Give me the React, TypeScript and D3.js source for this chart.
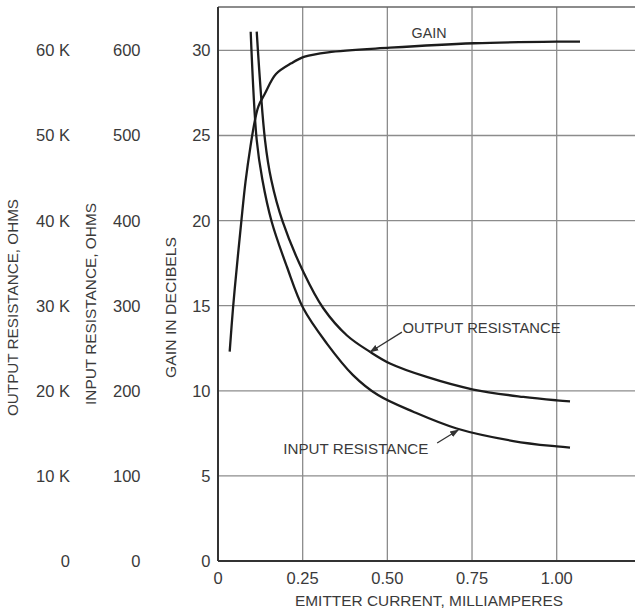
import React from "react";
import * as d3 from "d3";

// Emitter current (mA) and gain (dB)
const gainCurrent = [0.0345, 0.0443, 0.0561, 0.0688, 0.0812, 0.096, 0.1092, 0.1196, 0.1379, 0.1712, 0.2164, 0.256, 0.3248, 0.5078, 0.7558, 1.0, 1.0688];
const gainDb = [12.3, 14.85, 17.39, 19.94, 22.27, 24.38, 25.91, 26.73, 27.44, 28.61, 29.24, 29.63, 29.89, 30.16, 30.42, 30.51, 30.51];

// Input resistance (ohms)
const inputCurrent = [0.0965, 0.1143, 0.1308, 0.1585, 0.2037, 0.2518, 0.3209, 0.3986, 0.4724, 0.5766, 0.7048, 0.8719, 1.0, 1.0393];
const inputOhms = [622, 494.7, 448.6, 398.7, 345.5, 296.9, 255.8, 218.5, 195.0, 175.4, 155.7, 141.0, 134.6, 133.2];

// Output resistance (kilohms)
const outputCurrent = [0.1143, 0.1388, 0.1574, 0.191, 0.2518, 0.3109, 0.3809, 0.4488, 0.5078, 0.6162, 0.7538, 0.9014, 1.0, 1.0393];
const outputKOhms = [62.2, 49.47, 44.77, 39.87, 33.99, 29.7, 26.5, 24.58, 23.21, 21.63, 20.15, 19.28, 18.88, 18.76];

const xTicks = [0, 0.25, 0.5, 0.75, 1.0];
const xTickLabels = ["0", "0.25", "0.50", "0.75", "1.00"];
const gainTicks = [0, 5, 10, 15, 20, 25, 30];
const inputTicks = [0, 100, 200, 300, 400, 500, 600];
const outputTicks = [0, 10, 20, 30, 40, 50, 60];
const outputTickLabels = ["0", "10 K", "20 K", "30 K", "40 K", "50 K", "60 K"];

const W = 635;
const H = 613;
const DB_MAX = 32.55;
const X_MAX = 1.235;

export default function App() {
  const x = d3.scaleLinear().domain([0, X_MAX]).range([218, 218 + X_MAX * 338.7]);
  const y = d3.scaleLinear().domain([0, DB_MAX]).range([561, 7]);
  const yIn = d3.scaleLinear().domain([0, DB_MAX * 20]).range([561, 7]);
  const yOut = d3.scaleLinear().domain([0, DB_MAX * 2]).range([561, 7]);

  const lineGen = (xs: number[], ys: number[], ys2: (v: number) => number) =>
    d3
      .line<number>()
      .x((_, i) => x(xs[i]))
      .y((v) => ys2(v))
      .curve(d3.curveCatmullRom.alpha(0.5))(ys) || "";

  const gainPath = lineGen(gainCurrent, gainDb, y);
  const inputPath = lineGen(inputCurrent, inputOhms, yIn);
  const outputPath = lineGen(outputCurrent, outputKOhms, yOut);

  const textColor = "#3a3a3a";
  const font = "'Liberation Sans', Arial, sans-serif";
  const curveColor = "#1c1c1c";
  const gridColor = "#8c8c8c";

  const x0 = x(0);
  const xEnd = W;
  const yTop = y(DB_MAX);
  const yBot = y(0);

  return (
    <svg
      width={W}
      height={H}
      style={{ position: "absolute", left: 0, top: 0, background: "#fff" }}
      fontFamily={font}
    >
      <defs>
        <marker id="arr" viewBox="0 0 10 10" refX="9" refY="5" markerWidth="7" markerHeight="7" orient="auto">
          <path d="M0,1.5 L10,5 L0,8.5 z" fill="#333" />
        </marker>
      </defs>
      <rect x={0} y={0} width={W} height={H} fill="#fff" />

      {/* grid */}
      {gainTicks.filter((t) => t > 0).map((t) => (
        <line key={"h" + t} x1={x0} x2={xEnd} y1={y(t)} y2={y(t)} stroke={gridColor} strokeWidth={1.3} />
      ))}
      {xTicks.filter((t) => t > 0).map((t) => (
        <line key={"v" + t} x1={x(t)} x2={x(t)} y1={yTop} y2={yBot} stroke={gridColor} strokeWidth={1.3} />
      ))}
      {/* top border */}
      <line x1={x0} x2={xEnd} y1={yTop} y2={yTop} stroke="#666" strokeWidth={1.4} />
      {/* axes */}
      <line x1={x0} x2={x0} y1={yTop} y2={yBot} stroke="#333" strokeWidth={2} />
      <line x1={x0} x2={xEnd} y1={yBot} y2={yBot} stroke="#333" strokeWidth={2} />

      {/* curves */}
      <path d={gainPath} fill="none" stroke={curveColor} strokeWidth={2.3} />
      <path d={inputPath} fill="none" stroke={curveColor} strokeWidth={2.3} />
      <path d={outputPath} fill="none" stroke={curveColor} strokeWidth={2.3} />

      {/* x ticks */}
      {xTicks.map((t, i) => (
        <text key={"xt" + t} x={x(t)} y={583.5} textAnchor="middle" fontSize={16.5} fill={textColor}>
          {xTickLabels[i]}
        </text>
      ))}
      <text x={x(0.623)} y={606} textAnchor="middle" fontSize={15} fill={textColor} textLength={268} lengthAdjust="spacingAndGlyphs">
        EMITTER CURRENT, MILLIAMPERES
      </text>

      {/* gain ticks */}
      {gainTicks.map((t) => (
        <text key={"g" + t} x={210.5} y={y(t)} dy="0.36em" textAnchor="end" fontSize={16.5} fill={textColor}>
          {t}
        </text>
      ))}
      {/* input resistance ticks */}
      {inputTicks.map((t) => (
        <text key={"i" + t} x={140.5} y={yIn(t)} dy="0.36em" textAnchor="end" fontSize={16.5} fill={textColor}>
          {t}
        </text>
      ))}
      {/* output resistance ticks */}
      {outputTicks.map((t, i) => (
        <text key={"o" + t} x={70} y={yOut(t)} dy="0.36em" textAnchor="end" fontSize={16.5} fill={textColor}>
          {outputTickLabels[i]}
        </text>
      ))}

      {/* axis titles */}
      <text transform={`translate(18,307.5) rotate(-90)`} textAnchor="middle" fontSize={15} fill={textColor} textLength={217} lengthAdjust="spacingAndGlyphs">
        OUTPUT RESISTANCE, OHMS
      </text>
      <text transform={`translate(96,304) rotate(-90)`} textAnchor="middle" fontSize={15} fill={textColor} textLength={202} lengthAdjust="spacingAndGlyphs">
        INPUT RESISTANCE, OHMS
      </text>
      <text transform={`translate(175.5,307.5) rotate(-90)`} textAnchor="middle" fontSize={15} fill={textColor} textLength={141} lengthAdjust="spacingAndGlyphs">
        GAIN IN DECIBELS
      </text>

      {/* annotations */}
      <text x={x(0.623)} y={y(30.73)} textAnchor="middle" fontSize={15} fill={textColor} textLength={35} lengthAdjust="spacingAndGlyphs">
        GAIN
      </text>
      <text x={x(0.545)} y={y(13.4)} fontSize={15} fill={textColor} textLength={158} lengthAdjust="spacingAndGlyphs">
        OUTPUT RESISTANCE
      </text>
      <line x1={x(0.543)} y1={y(13.45)} x2={x(0.449)} y2={y(12.28)} stroke="#333" strokeWidth={1.3} markerEnd="url(#arr)" />
      <text x={x(0.193)} y={y(6.29)} fontSize={15} fill={textColor} textLength={145} lengthAdjust="spacingAndGlyphs">
        INPUT RESISTANCE
      </text>
      <line x1={x(0.647)} y1={y(6.93)} x2={x(0.7095)} y2={y(7.7)} stroke="#333" strokeWidth={1.3} markerEnd="url(#arr)" />
    </svg>
  );
}
